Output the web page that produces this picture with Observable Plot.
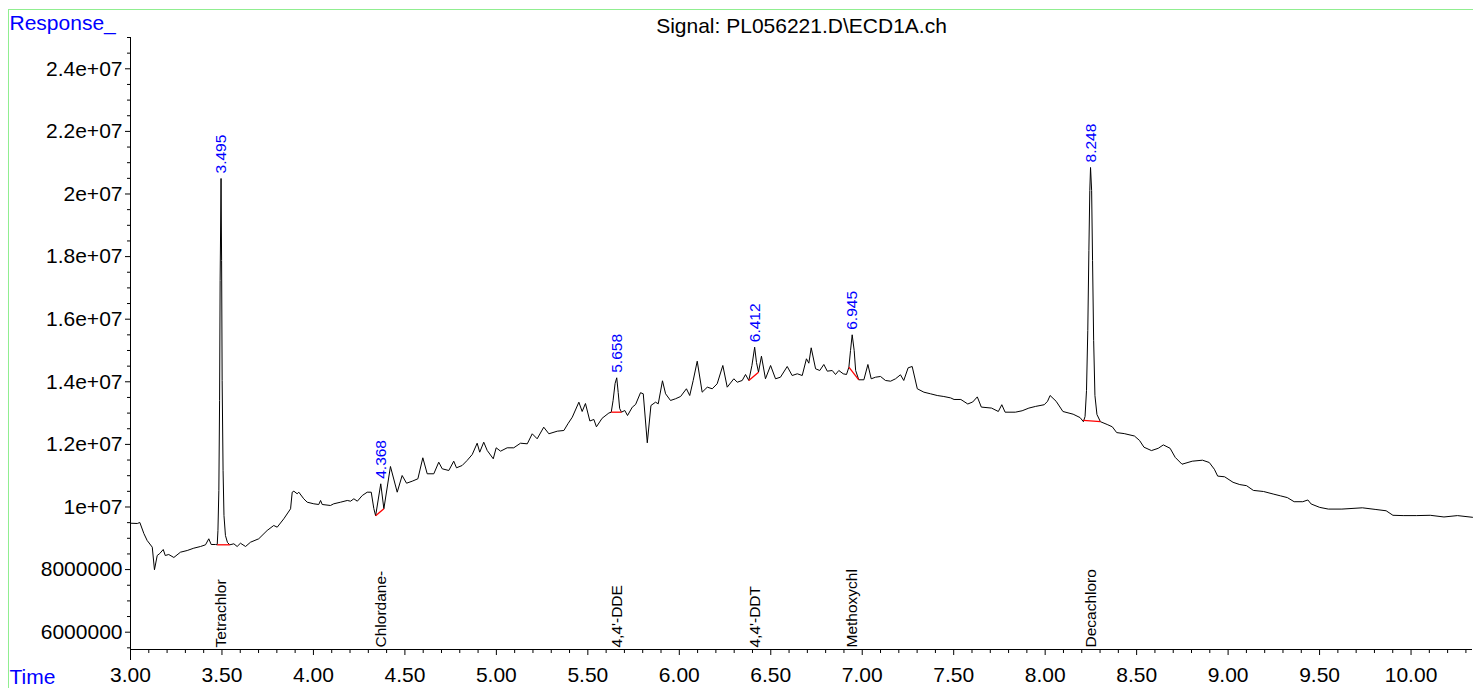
<!DOCTYPE html>
<html>
<head>
<meta charset="utf-8">
<script src="https://cdn.jsdelivr.net/npm/d3@7"></script>
<script src="https://cdn.jsdelivr.net/npm/@observablehq/plot@0.6"></script>
<style>
html, body { margin: 0; padding: 0; background: #fff; }
#wrap { position: relative; width: 1473px; height: 688px; overflow: hidden; background: #fff; }
#border { position: absolute; left: 8px; top: 9px; right: 0; bottom: -10px; border-left: 1px solid #90ee90; border-top: 1px solid #90ee90; pointer-events: none; z-index: 2; }
</style>
</head>
<body>
<div id="wrap"><div id="border"></div></div>
<script>
// Retention time (min)
const time = [
  3.000,3.037,3.051,3.073,3.091,3.119,3.131,3.146,3.160,3.179,3.190,3.209,3.237,3.273,3.310,3.346,3.383,3.410,3.428,3.441,3.465,
  3.474,3.478,3.483,3.487,3.490,3.495,3.498,3.501,3.506,3.511,3.519,3.530,3.543,
  3.565,3.583,3.601,3.629,3.656,3.701,3.747,3.783,3.802,3.838,3.875,3.884,3.893,3.911,3.920,3.947,3.966,4.002,4.029,4.039,4.048,4.093,4.111,4.148,4.185,4.203,4.221,4.240,4.267,4.294,4.316,4.330,4.340,
  4.368,4.385,4.421,4.458,4.485,4.509,4.540,4.571,4.598,4.622,4.658,4.685,4.704,4.740,4.767,4.782,4.813,4.840,4.868,4.895,4.909,4.931,4.950,4.983,4.999,5.023,5.059,5.095,5.132,5.169,5.196,5.223,5.259,5.287,5.333,5.369,5.391,5.415,5.451,5.469,5.487,5.511,5.533,5.547,5.578,5.615,5.628,
  5.638,5.649,5.658,5.666,5.674,5.684,5.702,5.717,5.743,5.761,5.788,5.803,5.825,5.845,5.870,5.885,5.908,5.925,5.952,5.979,6.007,6.039,6.057,6.076,6.098,6.125,6.153,6.180,6.207,6.238,6.262,6.298,6.317,6.344,6.362,6.380,
  6.397,6.412,6.422,6.433,6.449,6.471,6.499,6.526,6.553,6.590,6.617,6.645,6.672,6.695,6.708,6.721,6.745,6.768,6.790,6.809,6.836,6.854,6.872,6.896,6.914,6.927,
  6.936,6.945,6.956,6.964,6.981,7.009,7.031,7.049,7.073,7.100,7.127,7.155,7.182,7.209,7.227,7.251,7.273,7.301,7.337,7.373,7.410,7.446,
  7.483,7.502,7.539,7.577,7.604,7.629,7.651,7.707,7.744,7.763,7.781,7.837,7.874,7.911,7.948,7.995,8.013,8.027,8.060,8.097,8.153,8.191,8.209,
  8.218,8.226,8.233,8.239,8.244,8.248,8.254,8.259,8.265,8.272,8.283,8.302,
  8.339,8.367,8.391,8.432,8.488,8.516,8.540,8.581,8.618,8.646,8.683,8.711,8.748,8.804,8.860,8.897,8.925,8.943,8.981,9.027,9.064,9.101,9.138,9.194,9.250,9.287,9.324,9.361,9.408,9.436,9.454,9.501,9.548,9.622,9.734,9.808,9.864,9.901,9.957,10.031,10.105,10.180,10.254,10.336
];

// Detector response
const response = [
  9.482e6,9.473e6,9.505e6,9.153e6,8.930e6,8.716e6,7.994e6,8.450e6,8.514e6,8.642e6,8.450e6,8.482e6,8.387e6,8.556e6,8.610e6,8.684e6,8.738e6,8.792e6,8.984e6,8.802e6,8.802e6,
  8.792e6,9.249e6,1.0527e7,1.3403e7,1.7237e7,2.0496e7,1.7876e7,1.4042e7,1.1166e7,9.728e6,9.089e6,8.866e6,8.792e6,
  8.824e6,8.738e6,8.843e6,8.738e6,8.875e6,8.984e6,9.249e6,9.409e6,9.355e6,9.623e6,9.942e6,1.0473e7,1.0505e7,1.0422e7,1.0473e7,1.0262e7,1.0153e7,1.0102e7,1.0080e7,1.0208e7,1.0080e7,1.0048e7,1.0102e7,1.0153e7,1.0208e7,1.0185e7,1.0262e7,1.0185e7,1.0367e7,1.0473e7,1.0473e7,9.952e6,9.719e6,
  1.0741e7,9.942e6,1.1294e7,1.0473e7,1.1006e7,1.0760e7,1.0824e7,1.0901e7,1.1572e7,1.1061e7,1.1061e7,1.1431e7,1.1220e7,1.1166e7,1.1463e7,1.1252e7,1.1326e7,1.1486e7,1.1677e7,1.2038e7,1.1751e7,1.2070e7,1.1805e7,1.1540e7,1.1891e7,1.1783e7,1.1891e7,1.1891e7,1.2038e7,1.2019e7,1.2339e7,1.2179e7,1.2550e7,1.2339e7,1.2422e7,1.2444e7,1.2658e7,1.2869e7,1.3348e7,1.3051e7,1.3307e7,1.2748e7,1.2796e7,1.2562e7,1.2834e7,1.3003e7,1.3029e7,
  1.3403e7,1.3946e7,1.4128e7,1.3658e7,1.3147e7,1.3029e7,1.3083e7,1.2923e7,1.3189e7,1.3275e7,1.3652e7,1.3617e7,1.2051e7,1.3243e7,1.3348e7,1.3297e7,1.4032e7,1.3617e7,1.3403e7,1.3457e7,1.3530e7,1.3777e7,1.3562e7,1.4042e7,1.4658e7,1.3668e7,1.3828e7,1.3777e7,1.3936e7,1.4521e7,1.3828e7,1.4096e7,1.3987e7,1.4042e7,1.4233e7,1.4042e7,
  1.4521e7,1.5106e7,1.4617e7,1.4307e7,1.4818e7,1.4096e7,1.4521e7,1.4096e7,1.4147e7,1.4489e7,1.4201e7,1.4256e7,1.4201e7,1.4735e7,1.4594e7,1.5086e7,1.4415e7,1.4361e7,1.4553e7,1.4339e7,1.4361e7,1.4233e7,1.4361e7,1.4256e7,1.4233e7,1.4467e7,
  1.5000e7,1.5502e7,1.5000e7,1.4361e7,1.4064e7,1.4064e7,1.4553e7,1.4096e7,1.4147e7,1.4170e7,1.4042e7,1.4019e7,1.4096e7,1.4224e7,1.4042e7,1.4447e7,1.4489e7,1.3777e7,1.3668e7,1.3617e7,1.3562e7,1.3530e7,
  1.3486e7,1.3435e7,1.3435e7,1.3291e7,1.3355e7,1.3518e7,1.3192e7,1.3160e7,1.3051e7,1.3268e7,1.3029e7,1.3029e7,1.3074e7,1.3160e7,1.3214e7,1.3268e7,1.3377e7,1.3562e7,1.3377e7,1.3051e7,1.2965e7,1.2856e7,1.2725e7,
  1.2891e7,1.3722e7,1.5639e7,1.8195e7,2.0112e7,2.0847e7,2.0112e7,1.7876e7,1.5320e7,1.3562e7,1.2955e7,1.2725e7,
  1.2636e7,1.2562e7,1.2377e7,1.2345e7,1.2268e7,1.2125e7,1.1911e7,1.1802e7,1.1875e7,1.1984e7,1.1875e7,1.1585e7,1.1367e7,1.1463e7,1.1495e7,1.1422e7,1.1205e7,1.0987e7,1.0965e7,1.0789e7,1.0716e7,1.0681e7,1.0530e7,1.0495e7,1.0409e7,1.0355e7,1.0300e7,1.0169e7,1.0169e7,1.0224e7,1.0096e7,9.987e6,9.933e6,9.933e6,9.974e6,9.920e6,9.879e6,9.735e6,9.725e6,9.725e6,9.735e6,9.681e6,9.725e6,9.671e6
];

// Integrated peaks
const peakTimes = [3.495, 4.368, 5.658, 6.412, 6.945, 8.248];
const peakLabels = ["3.495", "4.368", "5.658", "6.412", "6.945", "8.248"];
const compoundNames = ["Tetrachlor", "Chlordane-", "4,4'-DDE", "4,4'-DDT", "Methoxychl", "Decachloro"];

// Integration baselines (red)
const baseStartTime = [3.474, 4.340, 5.628, 6.380, 6.927, 8.209];
const baseStartResp = [8.792e6, 9.719e6, 1.3029e7, 1.4042e7, 1.4467e7, 1.2767e7];
const baseEndTime   = [3.543, 4.385, 5.684, 6.433, 6.981, 8.302];
const baseEndResp   = [8.792e6, 9.942e6, 1.3029e7, 1.4307e7, 1.4064e7, 1.2725e7];

// Axis ticks
const xTickLabels = ["3.00","3.50","4.00","4.50","5.00","5.50","6.00","6.50","7.00","7.50","8.00","8.50","9.00","9.50","10.00"];
const yTickValues = [6e6, 8e6, 1e7, 1.2e7, 1.4e7, 1.6e7, 1.8e7, 2e7, 2.2e7, 2.4e7];
const yTickLabels = ["6000000","8000000","1e+07","1.2e+07","1.4e+07","1.6e+07","1.8e+07","2e+07","2.2e+07","2.4e+07"];

const title = "Signal: PL056221.D\\ECD1A.ch";
const yTitle = "Response_";
const xTitle = "Time";

if (time.length !== response.length) throw new Error("length mismatch " + time.length + " vs " + response.length);

const data = time.map((t, i) => ({t, v: response[i]}));
const peaks = peakTimes.map((t, i) => ({t, v: data.find(d => d.t === t).v, label: peakLabels[i], name: compoundNames[i]}));
const baselines = baseStartTime.map((t1, i) => ({t1, v1: baseStartResp[i], t2: baseEndTime[i], v2: baseEndResp[i]}));

const xMajor = xTickLabels.map(Number);
const xMinor = d3.range(30, 104).filter(i => i % 5 !== 0).map(i => i / 10);
const yLabelOf = new Map(yTickValues.map((v, i) => [v, yTickLabels[i]]));
const yMinor = d3.range(11, 51).filter(i => i % 4 !== 0).map(i => i * 5e5);

const X0 = 3, X1 = 10.336, Y0 = 5.447e6, Y1 = 2.5e7;
const FONT = "'Liberation Sans', Arial, Helvetica, sans-serif";

const chart = Plot.plot({
  width: 1473,
  height: 688,
  marginTop: 37,
  marginBottom: 39,
  marginLeft: 130,
  marginRight: 1,
  style: {fontFamily: FONT, background: "transparent", color: "black", overflow: "visible"},
  x: {domain: [X0, X1]},
  y: {domain: [Y0, Y1]},
  marks: [
    Plot.axisY({ticks: yMinor, tickSize: 3, tickFormat: () => "", label: null}),
    Plot.axisY({ticks: yTickValues, tickSize: 5, tickPadding: 3, tickFormat: d => yLabelOf.get(d), fontSize: 21, label: null}),
    Plot.axisX({ticks: xMinor, tickSize: 4, tickFormat: () => "", label: null}),
    Plot.axisX({ticks: xMajor, tickSize: 6, tickPadding: 12, tickFormat: d => xTickLabels[xMajor.indexOf(d)], fontSize: 21, label: null}),
    Plot.ruleX([X0], {stroke: "black", insetBottom: -11}),
    Plot.ruleY([Y0], {stroke: "black"}),
    Plot.line(data, {x: "t", y: "v", stroke: "black", strokeWidth: 1}),
    Plot.link(baselines, {x1: "t1", y1: "v1", x2: "t2", y2: "v2", stroke: "red", strokeWidth: 1.3}),
    Plot.text(peaks, {x: "t", y: "v", text: "label", rotate: -90, textAnchor: "start", lineAnchor: "middle", dy: -5, fill: "blue", fontSize: 15.5}),
    Plot.text(peaks, {x: "t", frameAnchor: "bottom", text: "name", rotate: -90, textAnchor: "start", lineAnchor: "middle", dy: -2, fill: "black", fontSize: 15.5}),
    Plot.text([title], {frameAnchor: "top", lineAnchor: "middle", dy: -11.4, fontSize: 21, fill: "black"}),
    Plot.text([yTitle], {frameAnchor: "top-left", textAnchor: "start", lineAnchor: "middle", dx: -121, dy: -14.4, fill: "blue", fontSize: 21}),
    Plot.text([xTitle], {frameAnchor: "bottom-left", textAnchor: "start", lineAnchor: "middle", dx: -121, dy: 27.5, fill: "blue", fontSize: 21})
  ]
});
document.getElementById("wrap").appendChild(chart);
</script>
</body>
</html>
